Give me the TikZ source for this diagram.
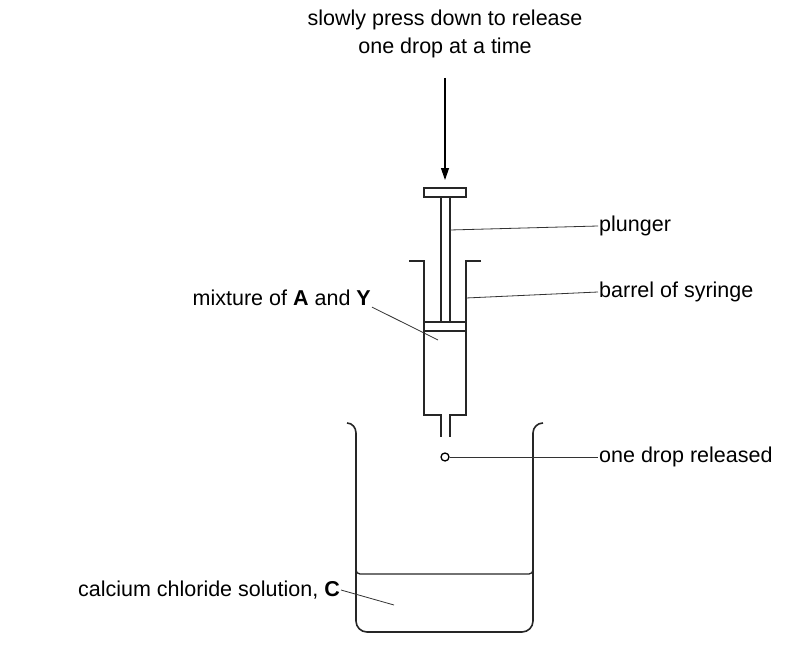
\documentclass[tikz,border=0pt]{standalone}
\usepackage{fontspec}
\setmainfont{Liberation Sans}
\usetikzlibrary{arrows.meta}
\begin{document}
\begin{tikzpicture}[x=1pt,y=-1pt,
  obj/.style={line width=1.6pt,color=black!85},
  lead/.style={line width=0.8pt,color=black!80},
  lbl/.style={font=\fontsize{21.5}{28}\selectfont,inner sep=1pt}]
\useasboundingbox (0,0) rectangle (787,658);
% text top
\node[lbl,align=center] (top) at (445,34) {slowly press down to release\\one drop at a time};
\coordinate (arrS) at (445,78);
\coordinate (arrE) at (445,180);
\draw[line width=1.2pt,-{Triangle[length=12pt,width=8pt]}] (arrS) -- (arrE);
% plunger
\draw[obj] (424,188) rectangle (466,197);
\draw[obj] (441,197) -- (441,322) (450,197) -- (450,322);
\draw[obj] (424,322) rectangle (466,331);
% barrel
\draw[obj] (409,261) -- (424,261) -- (424,415) -- (441,415) -- (441,437);
\draw[obj] (481,261) -- (466,261) -- (466,415) -- (450,415) -- (450,437);
% drop
\node[draw,circle,line width=1.3pt,minimum size=8pt,inner sep=0pt] (drop) at (445,457) {};
% beaker
\draw[obj] (347,423) to[out=0,in=90] (356,433) [rounded corners=11pt] -- (356,632) -- (533,632) [sharp corners] -- (533,433) to[out=90,in=180] (543,423);
\draw[line width=1.3pt,color=black!85] (356,570) to[out=-90,in=180] (360,574) -- (529,574) to[out=0,in=-90] (533,570);
% labels
\node[lbl,anchor=west] (pl) at (598,226) {plunger};
\draw[lead] (450,230) -- (pl.west);
\node[lbl,anchor=west] (ba) at (598,292) {barrel of syringe};
\draw[lead] (466,298) -- (ba.west);
\node[lbl,anchor=east] (mx) at (372,298) {mixture of \textbf{A} and \textbf{Y}};
\draw[lead] (mx.south east) -- (438,340);
\node[lbl,anchor=west] (dr) at (598,457) {one drop released};
\draw[lead] (drop) -- (dr.west);
\node[lbl,anchor=east] (ca) at (341,590) {calcium chloride solution, \textbf{C}};
\draw[lead] (ca.east) -- (394,605);
\end{tikzpicture}
\end{document}
